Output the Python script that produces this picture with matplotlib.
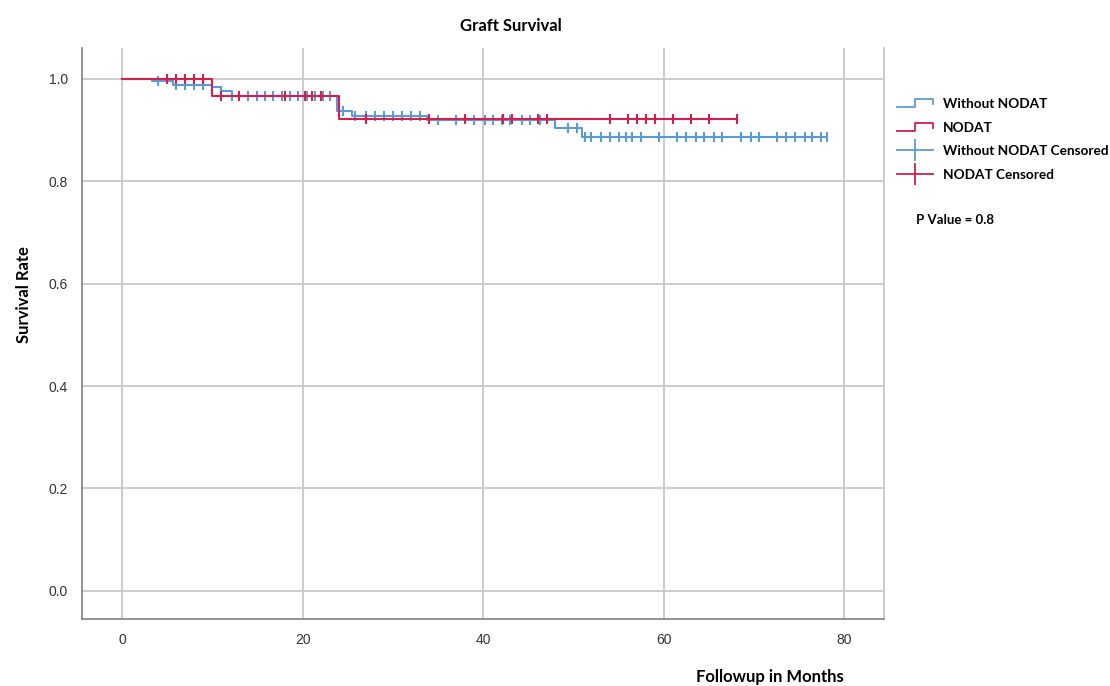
import numpy as np
import matplotlib
matplotlib.use("Agg")
import matplotlib.pyplot as plt
from matplotlib.lines import Line2D
from matplotlib.legend_handler import HandlerBase

# Kaplan-Meier steps
without_times = [0, 3.3, 5.6, 10, 11, 12.2, 23.8, 25.5, 33.8, 48, 51, 78.1]
without_surv = [1.0, 0.995, 0.989, 0.984, 0.977, 0.967, 0.938, 0.928, 0.919, 0.904, 0.887, 0.887]
without_censored = [4, 6, 7, 8, 9, 11, 12.2, 14, 15, 15.8, 16.7, 17.7, 18.6, 19.5, 20.5,
                    21.4, 22.3, 23, 24.5, 25.8, 27, 28, 29, 30, 31, 32, 33, 35, 37, 39,
                    40.2, 41.1, 42.1, 43, 44.3, 45.2, 46.3, 49.4, 50.4, 51.3, 52, 53, 54,
                    55, 55.8, 56.5, 57.5, 59.5, 61.5, 62.5, 63.6, 64.5, 65.6, 66.5, 68.6,
                    69.7, 70.6, 72.6, 73.6, 74.5, 75.6, 76.4, 77.4, 78.1]

nodat_times = [0, 10, 24, 68.1]
nodat_surv = [1.0, 0.967, 0.921, 0.921]
nodat_censored = [5, 6, 7, 8, 9, 11, 13, 18, 20.3, 21, 22, 27, 34, 38, 42.2, 43.2, 46.1,
                  47.1, 54, 56, 57, 58, 59, 61, 63, 65, 68.1]

x_ticks = [0, 20, 40, 60, 80]
y_ticks = [0.0, 0.2, 0.4, 0.6, 0.8, 1.0]

blue = "#5b9bd5"
red = "#d41e4c"


def surv_at(times, surv, t):
    # survival value of a step function at time t
    i = np.searchsorted(times, t, side="right") - 1
    return np.array(surv)[i]


class StepHandler(HandlerBase):
    def create_artists(self, legend, orig_handle, xdescent, ydescent, width, height, fontsize, trans):
        x = np.array([0, 0.5, 0.5, 1.0, 1.0]) * width - xdescent
        y = np.array([0.1, 0.1, 0.9, 0.9, 0.4]) * height - ydescent
        line = Line2D(x, y, color=orig_handle.get_color(), lw=orig_handle.get_linewidth())
        line.set_transform(trans)
        return [line]


fig = plt.figure(figsize=(11.1, 6.86), dpi=100)
ax = fig.add_axes([0.0739, 0.0977, 0.7225, 0.832])

ax.step(without_times, without_surv, where="post", color=blue, lw=1.5, zorder=3)
ax.step(nodat_times, nodat_surv, where="post", color=red, lw=1.5, zorder=4)

wc = np.array(without_censored)
nc = np.array(nodat_censored)
ax.plot(wc, surv_at(without_times, without_surv, wc), ls="none", marker="|",
        ms=7.5, mew=1.5, color=blue, zorder=3)
ax.plot(nc, surv_at(nodat_times, nodat_surv, nc), ls="none", marker="|",
        ms=7.5, mew=1.5, color=red, zorder=4)

ax.set_xlim(-4.43, 84.4)
ax.set_ylim(-0.055, 1.06)
ax.set_xticks(x_ticks)
ax.set_yticks(y_ticks)
ax.set_yticklabels([f"{v:.1f}" for v in y_ticks])
ax.grid(True, color="#c8c8c8", lw=1.3)
ax.set_axisbelow(True)
ax.tick_params(length=0, labelsize=10, labelcolor="#333333", pad=10)
for lab in ax.get_xticklabels() + ax.get_yticklabels():
    lab.set_family("Liberation Sans")
for side in ["left", "bottom"]:
    ax.spines[side].set_color("#808080")
    ax.spines[side].set_linewidth(1.2)
ax.spines["right"].set_color("#c8c8c8")
ax.spines["right"].set_linewidth(1.3)
ax.spines["top"].set_visible(False)

fig.text(0.46, 0.962, "Graft Survival", ha="center", va="center",
         fontsize=12, fontweight="bold", family="Lato")
fig.text(0.022, 0.57, "Survival Rate", ha="center", va="center", rotation=90,
         fontsize=12, fontweight="bold", family="Lato")
fig.text(0.694, 0.013, "Followup in Months", ha="center", va="center",
         fontsize=12, fontweight="bold", family="Lato")

handles = [Line2D([], [], color=blue, lw=1.3),
           Line2D([], [], color=red, lw=1.3),
           Line2D([], [], color=blue, lw=1.3, marker="|", ms=16, mew=1.3),
           Line2D([], [], color=red, lw=1.3, marker="|", ms=16, mew=1.3)]
labels = ["Without NODAT", "NODAT", "Without NODAT Censored", "NODAT Censored"]
fig.legend(handles, labels, loc="upper left", bbox_to_anchor=(0.798, 0.873),
           frameon=False, handlelength=2.7, labelspacing=0.85, handletextpad=0.7,
           borderpad=0.3, prop={"family": "Lato", "weight": "bold", "size": 9.8},
           handler_map={handles[0]: StepHandler(), handles[1]: StepHandler()})
fig.text(0.825, 0.679, "P Value = 0.8", ha="left", va="center",
         fontsize=9.5, fontweight="bold", family="Lato")

fig.savefig("out.png", dpi=100)
